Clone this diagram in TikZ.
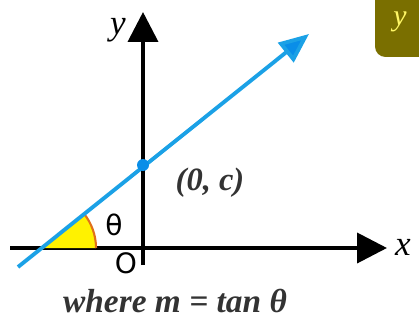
\documentclass[tikz,border=0pt]{standalone}
\usepackage{fontspec}
\setmainfont{Liberation Serif}
\newfontfamily\symfont{DejaVu Sans}
\usetikzlibrary{arrows.meta,positioning,calc}
\definecolor{lineblue}{HTML}{1BA1E6}
\definecolor{tipblue}{HTML}{0A8EE8}
\definecolor{olivebox}{HTML}{7A6F00}
\definecolor{anglered}{HTML}{E0701A}
\begin{document}
\begin{tikzpicture}[x=0.02cm, y=0.02cm,
      axis/.style  = {line width=2.2pt, black,
                      -{Triangle[length=17pt, width=17pt]}},
      slope/.style = {line width=2.2pt, lineblue,
                      -{Triangle[length=17pt, width=14pt, fill=tipblue]}},
      lbl/.style   = {font=\fontsize{17}{20}\selectfont\itshape, inner sep=0pt},
      sym/.style   = {font=\fontsize{16}{19}\selectfont\symfont, inner sep=0pt}
    ]
    \useasboundingbox (0,0) rectangle (419,325);

    % corner tab
    \fill[olivebox, rounded corners=6pt] (375,268) rectangle (440,340);
    \node[lbl, text=yellow!60] (tab) at (400,303) {y};

    % axes
    \coordinate (xl) at (10,77);
    \coordinate (xr) at (387,77);
    \coordinate (yb) at (143,60);
    \coordinate (yt) at (143,313);
    \draw[axis] (xl) -- (xr);
    \draw[axis] (yb) -- (yt);
    \node[lbl, font=\fontsize{20}{24}\selectfont\itshape] (xlab) at (403,78) {x};
    \node[lbl, font=\fontsize{20}{24}\selectfont\itshape] (ylab) at (118,295) {y};
    \node[sym] (orig) at (126,62) {O};

    % angle
    \coordinate (P) at (41,77);
    \fill[yellow] (P) -- ++(55,0) arc[start angle=0, end angle=38.7, radius=55] -- cycle;
    \draw[anglered, line width=1.2pt] ($(P)+(55,0)$) arc[start angle=0, end angle=38.7, radius=55];
    \node[sym] (theta) at (114,100) {θ};

    % line y = mx + c
    \coordinate (ls) at (18,58);
    \coordinate (le) at (309,291);
    \draw[slope] (ls) -- (le);
    \fill[tipblue] (143,160) circle[radius=6];
    \node[lbl, font=\fontsize{18.5}{22}\selectfont\itshape\bfseries, text=black!80] (int) at (210,142) {(0, c)};

    \node[lbl, font=\fontsize{19}{23}\selectfont\itshape\bfseries, text=black!80] (note) at (175,24) {where m = tan θ};
\end{tikzpicture}
\end{document}
